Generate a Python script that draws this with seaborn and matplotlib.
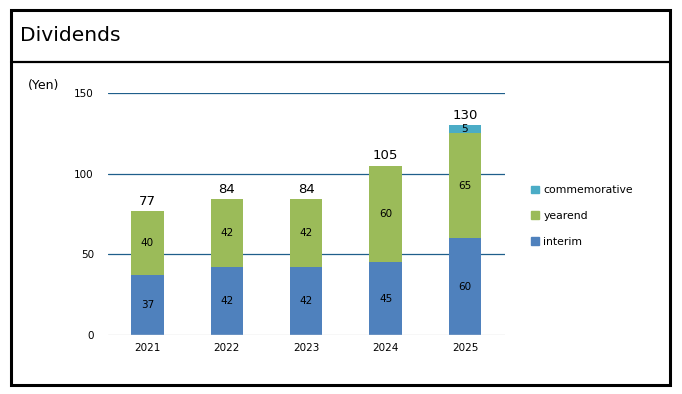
import matplotlib
matplotlib.use("Agg")
import matplotlib.pyplot as plt
from matplotlib.patches import Rectangle, Patch
from matplotlib.lines import Line2D
import seaborn as sns
import pandas as pd
import numpy as np

# data
years = ["2021", "2022", "2023", "2024", "2025"]
interim = [37, 42, 42, 45, 60]
yearend = [40, 42, 42, 60, 65]
commemorative = [0, 0, 0, 0, 5]
totals = [77, 84, 84, 105, 130]

c_interim = "#4F81BD"
c_yearend = "#9BBB59"
c_comm = "#4BACC6"

sns.set_theme(style="white")
plt.rcParams["font.family"] = ["DejaVu Sans"]
plt.rcParams["text.color"] = "black"

df = pd.DataFrame({"year": years, "interim": interim, "yearend": yearend,
                   "commemorative": commemorative})
df["lvl2"] = df["interim"] + df["yearend"]
df["lvl3"] = df["lvl2"] + df["commemorative"]

fig = plt.figure(figsize=(6.82, 3.94), dpi=100)
ax = fig.add_axes([0.158, 0.1497, 0.582, 0.6145])

# stacked bars: draw the tallest first and cover it
w = 0.41
for col, c in [("lvl3", c_comm), ("lvl2", c_yearend), ("interim", c_interim)]:
    sns.barplot(data=df, x="year", y=col, color=c, width=w, saturation=1,
                linewidth=0, edgecolor="none", ax=ax, zorder=3)

ax.set_ylim(0, 150)
ax.set_yticks([0, 50, 100, 150])
ax.set_xlim(-0.5, 4.5)
for y in [50, 100, 150]:
    ax.axhline(y, color="#1F5F8B", lw=0.9, zorder=1)
ax.axhline(0, color="#D9D9D9", lw=1.0, zorder=4)
for s in ax.spines.values():
    s.set_visible(False)
ax.set_xlabel("")
ax.set_ylabel("")
ax.tick_params(axis="both", length=0, labelsize=7.5, colors="black")
ax.tick_params(axis="y", pad=10)
ax.tick_params(axis="x", pad=6)

# segment labels
for i in range(len(years)):
    ax.text(i, interim[i] / 2, str(interim[i]), ha="center", va="center", fontsize=7.5, zorder=5)
    ax.text(i, interim[i] + yearend[i] / 2, str(yearend[i]), ha="center", va="center", fontsize=7.5, zorder=5)
    if commemorative[i] > 0:
        ax.text(i, df["lvl2"][i] + commemorative[i] / 2, str(commemorative[i]),
                ha="center", va="center", fontsize=7.5, zorder=5)
    ax.text(i, totals[i] + 2, str(totals[i]), ha="center", va="bottom", fontsize=9.5, zorder=5)

fig.text(0.064, 0.782, "(Yen)", fontsize=9, ha="center", va="center")

# legend
handles = [Patch(color=c_comm, label="commemorative"),
           Patch(color=c_yearend, label="yearend"),
           Patch(color=c_interim, label="interim")]
fig.legend(handles=handles, loc="center left", bbox_to_anchor=(0.765, 0.452), frameon=False,
           fontsize=7.8, handlelength=0.7, handleheight=0.7, handletextpad=0.4, labelspacing=1.45)

# outer frame and title box
fig.patches.append(Rectangle((0.0161, 0.0228), 0.9663, 0.9518, transform=fig.transFigure,
                             fill=False, edgecolor="black", lw=2.2))
fig.lines.append(Line2D([0.0161, 0.9824], [0.8426, 0.8426], transform=fig.transFigure,
                        color="black", lw=1.6))
fig.text(0.030, 0.909, "Dividends", fontsize=14.6, ha="left", va="center")

fig.savefig("out.png", dpi=100)
